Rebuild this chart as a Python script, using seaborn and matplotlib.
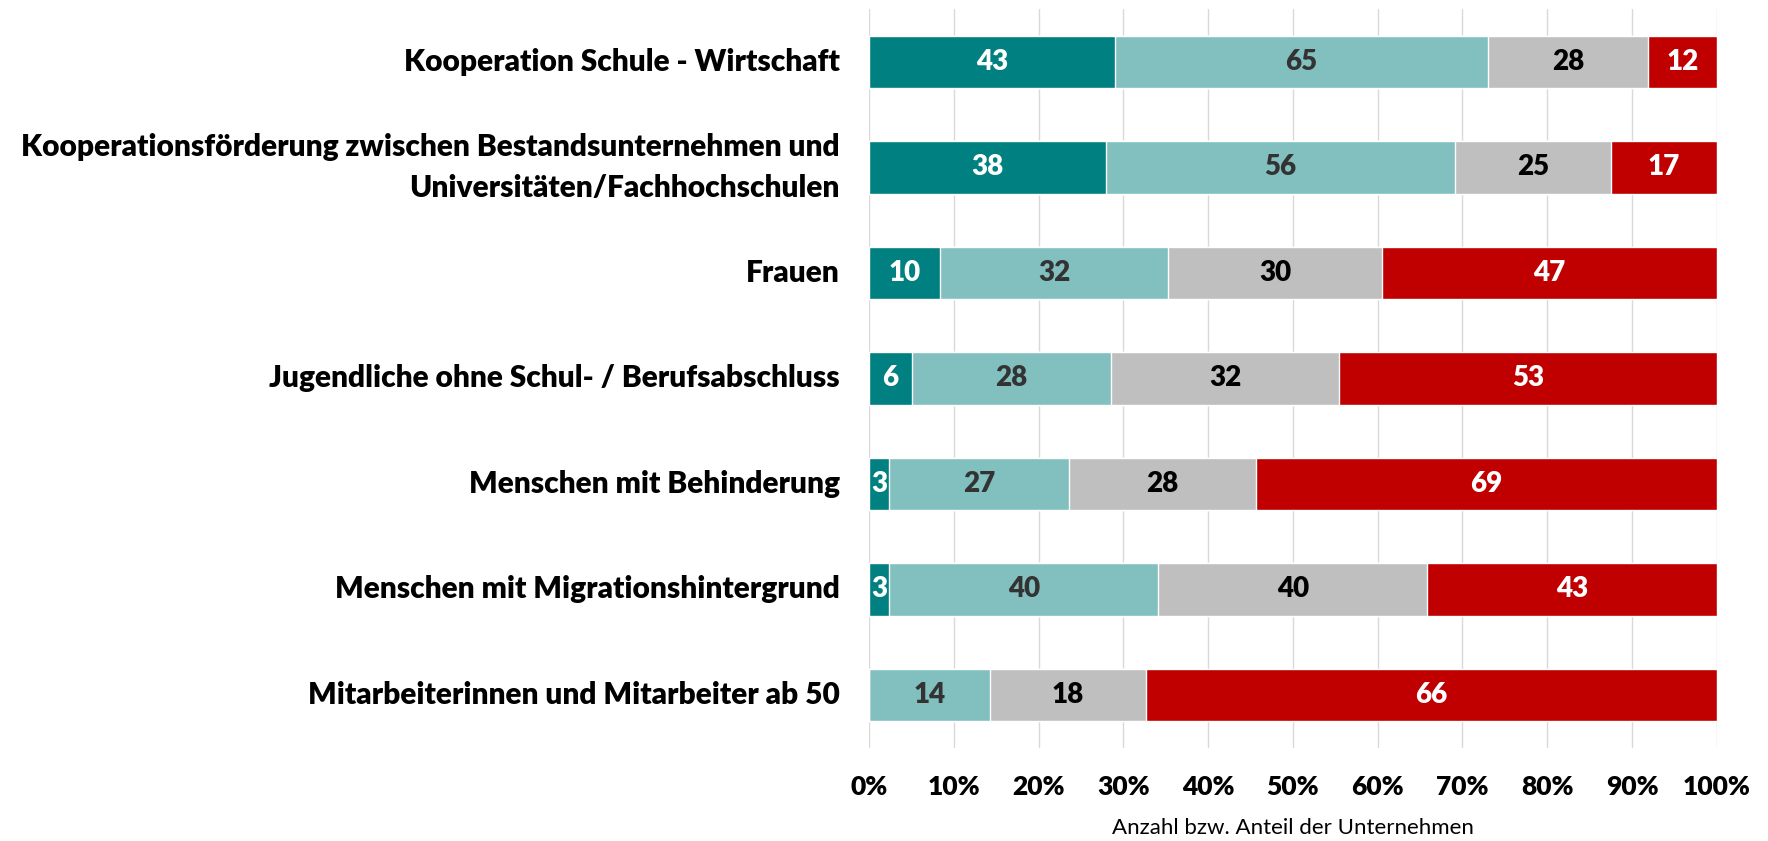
import pandas as pd
import numpy as np
import matplotlib
matplotlib.use('Agg')
import matplotlib.pyplot as plt
import seaborn as sns

categories = [
    'Kooperation Schule - Wirtschaft',
    'Kooperationsförderung zwischen Bestandsunternehmen und\nUniversitäten/Fachhochschulen',
    'Frauen',
    'Jugendliche ohne Schul- / Berufsabschluss',
    'Menschen mit Behinderung',
    'Menschen mit Migrationshintergrund',
    'Mitarbeiterinnen und Mitarbeiter ab 50',
]
seg1 = [43, 38, 10, 6, 3, 3, 0]
seg2 = [65, 56, 32, 28, 27, 40, 14]
seg3 = [28, 25, 30, 32, 28, 40, 18]
seg4 = [12, 17, 47, 53, 69, 43, 66]

colors = ['#008080', '#82C0C0', '#BFBFBF', '#C00000']
text_colors = ['white', '#333333', 'black', 'white']
tick_labels = [f'{p}%' for p in range(0, 101, 10)]

sns.set_style('white')
plt.rcParams['font.family'] = ['Lato', 'DejaVu Sans']

df = pd.DataFrame({'Kategorie': categories, 's1': seg1, 's2': seg2, 's3': seg3, 's4': seg4})
counts = df[['s1', 's2', 's3', 's4']].to_numpy(dtype=float)
shares = counts / counts.sum(axis=1, keepdims=True) * 100
cum = np.cumsum(shares, axis=1)

fig = plt.figure(figsize=(17.68, 8.41), dpi=100)
ax = fig.add_axes([0.4915, 0.111, 0.4795, 0.878])

# draw cumulative bars from largest to smallest so they stack
for i in range(3, -1, -1):
    d = pd.DataFrame({'Kategorie': categories, 'wert': cum[:, i]})
    sns.barplot(data=d, x='wert', y='Kategorie', color=colors[i], width=0.5,
                saturation=1, ax=ax, zorder=2)

for r in range(len(categories)):
    for i in range(4):
        if counts[r, i] == 0:
            continue
        left = cum[r, i] - shares[r, i]
        ax.text(left + shares[r, i] / 2, r, f'{int(counts[r, i])}', ha='center', va='center',
                color=text_colors[i], fontsize=20, fontweight='heavy', zorder=3)

ax.set_xlim(0, 100)
ax.set_ylim(6.5, -0.5)
ax.set_xticks(range(0, 101, 10))
ax.set_xticklabels(tick_labels, fontsize=19, fontweight='heavy', color='black')
ax.set_yticks(range(len(categories)))
ax.set_yticklabels(categories, fontsize=21.5, fontweight='heavy', ha='right', va='center',
                   linespacing=1.6, color='black')
ax.tick_params(axis='x', length=0, pad=20)
ax.tick_params(axis='y', length=0, pad=21)
ax.set_xlabel('')
ax.set_ylabel('')
ax.grid(axis='x', color='#D9D9D9', linewidth=1, zorder=0)
ax.grid(axis='y', visible=False)
ax.set_axisbelow(True)
for s in ax.spines.values():
    s.set_visible(False)

fig.text(0.7313, 0.0155, 'Anzahl bzw. Anteil der Unternehmen', ha='center', va='center',
         fontsize=16, color='black')

fig.savefig('out.png', dpi=100)
